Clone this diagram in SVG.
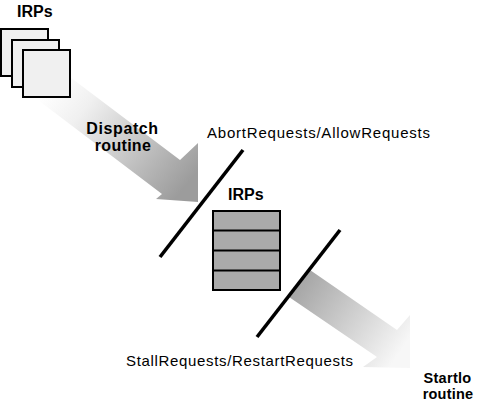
<svg xmlns="http://www.w3.org/2000/svg" width="478" height="402" viewBox="0 0 478 402">
<style>
  text { font-family: "Liberation Sans", Arial, sans-serif; fill: #000; }
  .b { font-weight: bold; font-size: 16px; }
  .s { font-weight: bold; font-size: 14.5px; }
  .r { font-size: 15px; }
  .irp { fill: #f0f0f0; stroke: #000; stroke-width: 2; }
  .q { fill: #aaaaaa; stroke: #000; stroke-width: 2; }
  .slash { stroke: #000; stroke-width: 3.6; stroke-linecap: butt; }
</style>
<defs>
  <linearGradient id="g1" gradientUnits="userSpaceOnUse" x1="60" y1="72" x2="192" y2="178">
    <stop offset="0" stop-color="#ffffff"/>
    <stop offset="0.25" stop-color="#f0f0f0"/>
    <stop offset="1" stop-color="#9c9c9c"/>
  </linearGradient>
  <linearGradient id="g2" gradientUnits="userSpaceOnUse" x1="300" y1="283" x2="400" y2="352">
    <stop offset="0" stop-color="#a6a6a6"/>
    <stop offset="1" stop-color="#f7f7f7"/>
  </linearGradient>
</defs>
<rect width="478" height="402" fill="#fff"/>

<g id="connectors">
  <polygon id="arrow-dispatch" fill="url(#g1)" points="50,62 180,160 198,143 198,202 156,199 162,194 30,94"/>
  <polygon id="arrow-startio" fill="url(#g2)" points="310,270 397,330 410,315 410,368 363,367 377,357 289,297"/>
</g>

<g id="irps-in">
  <text class="b" x="17" y="17">IRPs</text>
  <rect class="irp" x="1" y="29" width="47" height="47"/>
  <rect class="irp" x="12" y="40" width="47" height="47"/>
  <rect class="irp" x="23" y="50" width="47" height="47"/>
</g>

<g id="dispatch-routine">
  <text class="b" x="122.5" y="134" text-anchor="middle" letter-spacing="0.6">Dispatch</text>
  <text class="b" x="123" y="151" text-anchor="middle" letter-spacing="0.3">routine</text>
</g>

<g id="gate-abort">
  <line class="slash" x1="243" y1="150" x2="160" y2="257"/>
  <text class="r" x="207" y="137.5" textLength="223" lengthAdjust="spacing">AbortRequests/AllowRequests</text>
</g>

<g id="irp-queue">
  <text class="b" x="228" y="200">IRPs</text>
  <rect class="q" x="213" y="211" width="67" height="79"/>
  <line x1="213" y1="230.5" x2="280" y2="230.5" stroke="#000" stroke-width="2"/>
  <line x1="213" y1="250.5" x2="280" y2="250.5" stroke="#000" stroke-width="2"/>
  <line x1="213" y1="270.5" x2="280" y2="270.5" stroke="#000" stroke-width="2"/>
</g>

<g id="gate-stall">
  <line class="slash" x1="340" y1="230" x2="257" y2="337"/>
  <text class="r" x="126" y="365.5" textLength="227" lengthAdjust="spacing">StallRequests/RestartRequests</text>
</g>

<g id="startio-routine">
  <text class="s" x="447.5" y="383" text-anchor="middle" letter-spacing="0.3">Startlo</text>
  <text class="s" x="448" y="398.5" text-anchor="middle" letter-spacing="0.2">routine</text>
</g>
</svg>
